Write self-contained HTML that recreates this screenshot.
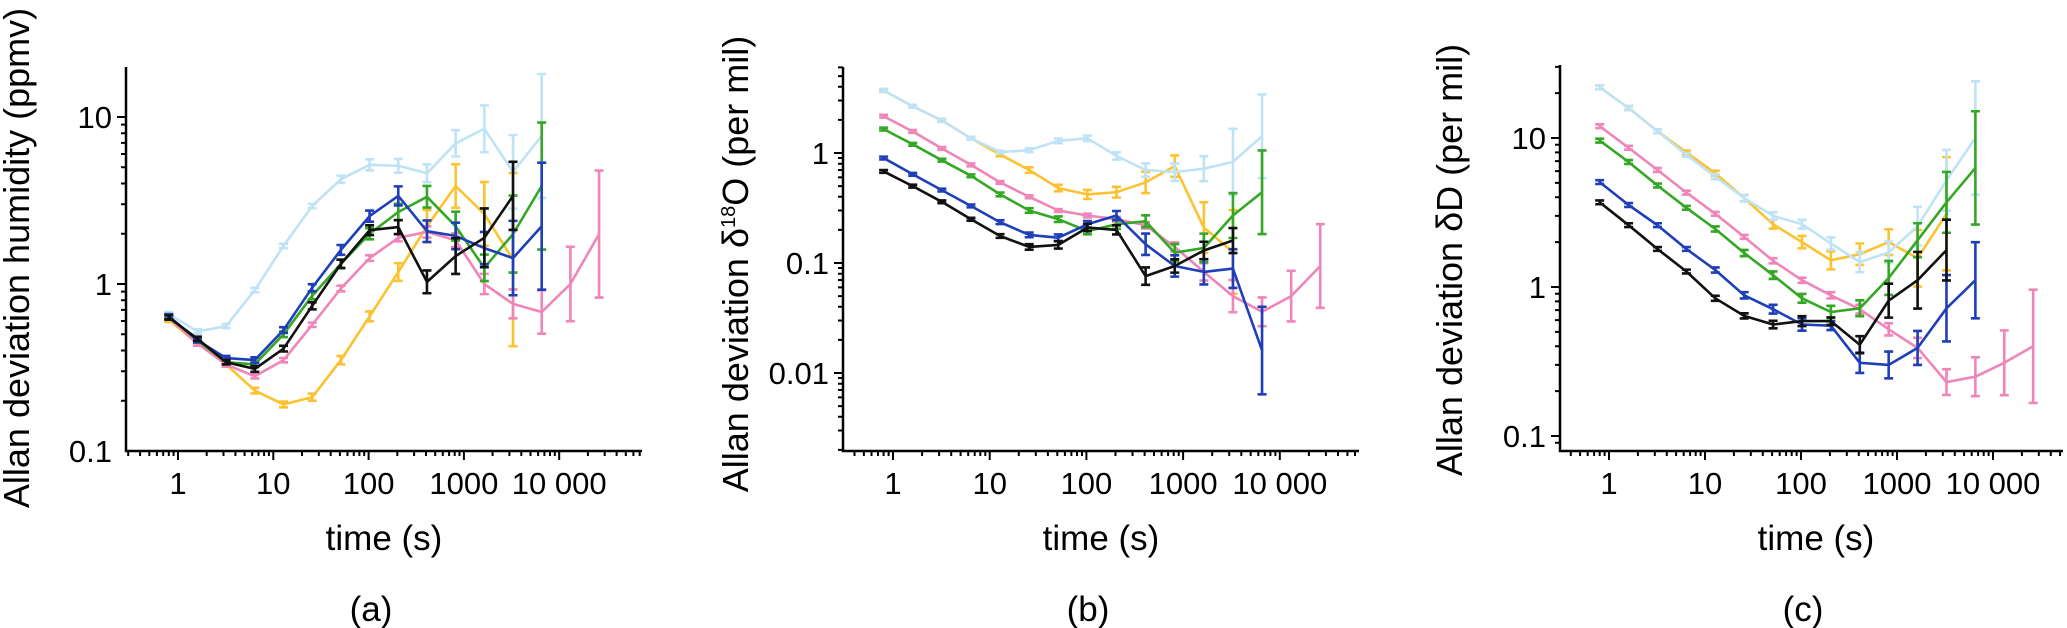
<!DOCTYPE html>
<html><head><meta charset="utf-8"><style>
html,body{margin:0;padding:0;background:#fff;}
svg{display:block;font-family:"Liberation Sans",Arial,sans-serif;}
</style></head><body>
<svg id="chart" width="2067" height="628" viewBox="0 0 2067 628" xmlns="http://www.w3.org/2000/svg"></svg>
<script>
// ---- data ----
const times = [0.8,1.6,3.2,6.4,12.8,25.6,51.2,102.4,204.8,409.6,819.2,1638.4,3276.8,6553.6,13107.2,26214.4];
const xTickValues = [1,10,100,1000,10000];
const xTickLabels = ["1","10","100","1000","10 000"];
const yTicksA = [0.1,1,10];
const yTickLabelsA = ["0.1","1","10"];
const yTicksB = [0.01,0.1,1];
const yTickLabelsB = ["0.01","0.1","1"];
const yTicksC = [0.1,1,10];
const yTickLabelsC = ["0.1","1","10"];
const seriesNames = ["yellow","light-blue","pink","green","blue","black"];
const seriesColors = ["#fcc232","#bfe3f6","#ef85b9","#34a824","#1f3fb8","#111111"];

// panel a: humidity (ppmv)
const aYellow = [0.61,0.44,0.33,0.23,0.19,0.21,0.35,0.64,1.18,2.22,3.86,2.63,1.4];
const aYellowErr = [1.03,1.03,1.03,1.04,1.04,1.05,1.06,1.07,1.13,1.25,1.35,1.55,3.3];
const aLightBlue = [0.66,0.52,0.56,0.92,1.69,2.93,4.24,5.17,5.1,4.6,6.96,8.5,4.7,7.7];
const aLightBlueErr = [1.03,1.03,1.03,1.03,1.03,1.03,1.05,1.08,1.1,1.13,1.2,1.38,1.66,2.35];
const aPink = [0.63,0.44,0.33,0.28,0.35,0.57,0.94,1.43,1.89,2.05,1.83,1.0,0.76,0.68,1.0,1.99];
const aPinkErr = [1.03,1.03,1.03,1.03,1.03,1.03,1.04,1.04,1.05,1.08,1.1,1.15,1.22,1.35,1.67,2.4];
const aGreen = [0.64,0.46,0.34,0.33,0.5,0.85,1.32,2.0,2.7,3.33,2.22,1.25,1.99,3.86];
const aGreenErr = [1.03,1.03,1.03,1.04,1.04,1.05,1.06,1.08,1.12,1.16,1.22,1.2,1.7,2.4];
const aBlue = [0.64,0.46,0.36,0.35,0.53,0.95,1.6,2.55,3.37,2.07,1.94,1.64,1.43,2.22];
const aBlueErr = [1.03,1.03,1.03,1.04,1.04,1.05,1.07,1.08,1.14,1.16,1.2,1.25,1.67,2.4];
const aBlack = [0.63,0.47,0.34,0.31,0.41,0.74,1.32,2.1,2.19,1.03,1.47,1.89,3.37];
const aBlackErr = [1.03,1.03,1.03,1.04,1.04,1.05,1.06,1.07,1.1,1.17,1.28,1.5,1.6];

// panel b: delta18O (per mil)
const bYellow = [3.7,2.66,1.98,1.36,0.97,0.70,0.48,0.42,0.44,0.54,0.76,0.21,0.126];
const bYellowErr = [1.03,1.03,1.03,1.03,1.04,1.06,1.07,1.1,1.12,1.25,1.25,1.7,2.4];
const bLightBlue = [3.7,2.66,1.98,1.36,1.02,1.06,1.29,1.36,0.94,0.70,0.67,0.72,0.83,1.42];
const bLightBlueErr = [1.03,1.03,1.03,1.03,1.03,1.04,1.05,1.06,1.08,1.15,1.2,1.3,2.0,2.4];
const bPink = [2.16,1.57,1.1,0.78,0.54,0.40,0.30,0.27,0.25,0.22,0.14,0.083,0.050,0.036,0.05,0.094];
const bPinkErr = [1.03,1.03,1.03,1.03,1.03,1.03,1.03,1.04,1.05,1.07,1.1,1.2,1.4,1.35,1.7,2.4];
const bGreen = [1.65,1.2,0.86,0.62,0.42,0.30,0.25,0.195,0.225,0.24,0.124,0.137,0.27,0.44];
const bGreenErr = [1.03,1.03,1.03,1.03,1.04,1.05,1.06,1.07,1.1,1.13,1.2,1.35,1.6,2.4];
const bBlue = [0.90,0.64,0.46,0.33,0.235,0.18,0.17,0.225,0.27,0.148,0.094,0.083,0.089,0.016];
const bBlueErr = [1.03,1.03,1.03,1.03,1.04,1.05,1.07,1.07,1.1,1.25,1.25,1.3,1.5,2.5];
const bBlack = [0.68,0.50,0.36,0.25,0.176,0.14,0.146,0.21,0.2,0.076,0.094,0.13,0.16];
const bBlackErr = [1.03,1.03,1.03,1.03,1.04,1.06,1.08,1.08,1.1,1.2,1.15,1.2,1.3];

// panel c: deltaD (per mil)
const cYellow = [21.9,15.9,11.1,8.0,5.8,3.95,2.64,2.0,1.51,1.66,2.0,1.56,3.1];
const cYellowErr = [1.03,1.03,1.03,1.03,1.04,1.05,1.07,1.1,1.15,1.18,1.22,1.55,2.4];
const cLightBlue = [21.9,15.9,11.1,7.7,5.5,3.95,3.0,2.64,1.96,1.47,1.71,2.56,5.2,10];
const cLightBlueErr = [1.03,1.03,1.03,1.03,1.04,1.05,1.06,1.07,1.1,1.17,1.18,1.35,1.6,2.4];
const cPink = [12.0,8.6,6.1,4.3,3.1,2.17,1.5,1.11,0.88,0.71,0.52,0.39,0.23,0.25,0.31,0.40];
const cPinkErr = [1.03,1.03,1.03,1.03,1.03,1.03,1.04,1.04,1.05,1.07,1.1,1.17,1.22,1.35,1.65,2.4];
const cGreen = [9.6,6.9,4.8,3.4,2.45,1.69,1.2,0.84,0.68,0.72,1.15,2.06,3.7,6.3];
const cGreenErr = [1.03,1.03,1.03,1.03,1.04,1.05,1.06,1.07,1.1,1.13,1.3,1.3,1.6,2.4];
const cBlue = [5.06,3.55,2.6,1.8,1.3,0.88,0.71,0.56,0.55,0.31,0.30,0.39,0.72,1.11];
const cBlueErr = [1.03,1.03,1.03,1.03,1.04,1.05,1.07,1.1,1.07,1.17,1.23,1.3,1.67,1.8];
const cBlack = [3.7,2.6,1.8,1.27,0.84,0.64,0.56,0.59,0.59,0.41,0.81,1.11,1.77];
const cBlackErr = [1.03,1.03,1.03,1.03,1.04,1.04,1.06,1.08,1.06,1.14,1.3,1.55,1.6];

// ---- drawing ----
const NS = "http://www.w3.org/2000/svg";
const svg = document.getElementById("chart");
function mk(tag, attrs, parent){
  const e = document.createElementNS(NS, tag);
  for (const k in attrs) e.setAttribute(k, attrs[k]);
  (parent||svg).appendChild(e);
  return e;
}
const lg = Math.log10;

const panels = [
  {id:"a", x1:178, dec:95.3, ax0:126, ax1:642, y1:284, ydec:167, top:67, bottom:451,
   yt:yTicksA, ytl:yTickLabelsA, ymin:0.1, ymax:20,
   series:[[aYellow,aYellowErr],[aLightBlue,aLightBlueErr],[aPink,aPinkErr],[aGreen,aGreenErr],[aBlue,aBlueErr],[aBlack,aBlackErr]],
   lx:17, ly:258, xlc:384, plc:371, title:"Allan deviation humidity (ppmv)"},
  {id:"b", x1:893, dec:96.7, ax0:843, ax1:1359, y1:153, ydec:110, top:67, bottom:451,
   yt:yTicksB, ytl:yTickLabelsB, ymin:0.002, ymax:6,
   series:[[bYellow,bYellowErr],[bLightBlue,bLightBlueErr],[bPink,bPinkErr],[bGreen,bGreenErr],[bBlue,bBlueErr],[bBlack,bBlackErr]],
   lx:736, ly:264, xlc:1101, plc:1088, title:null},
  {id:"c", x1:1609, dec:96, ax0:1560, ax1:2063, y1:287, ydec:149, top:65, bottom:451,
   yt:yTicksC, ytl:yTickLabelsC, ymin:0.08, ymax:30,
   series:[[cYellow,cYellowErr],[cLightBlue,cLightBlueErr],[cPink,cPinkErr],[cGreen,cGreenErr],[cBlue,cBlueErr],[cBlack,cBlackErr]],
   lx:1450, ly:260, xlc:1816, plc:1803, title:"Allan deviation \u03b4D (per mil)"}
];

panels.forEach(p => {
  const g = mk("g", {});
  
  
  const X = t => p.x1 + p.dec * lg(t);
  const Y = v => p.y1 - p.ydec * lg(v);

  // series
  p.series.forEach((s, si) => {
    const vals = s[0], errs = s[1];
    const sg = mk("g", {}, g);
    
    
    const col = seriesColors[si];
    let d = "";
    vals.forEach((v, i) => { d += (i ? "L" : "M") + X(times[i]).toFixed(1) + " " + Y(v).toFixed(1); });
    const line = mk("path", {d:d, fill:"none", stroke:col, "stroke-width":2.6, "stroke-linejoin":"round"}, sg);
    
    
    vals.forEach((v, i) => {
      const x = X(times[i]);
      const yh = Y(v * errs[i]), yl = Y(Math.max(v / errs[i], p.ymin));
      const eb = mk("path", {d:`M${x-4.5} ${yh}H${x+4.5}M${x} ${yh}V${yl}M${x-4.5} ${yl}H${x+4.5}`,
        fill:"none", stroke:col, "stroke-width":2.6}, sg);
      
      
    });
  });

  // axes
  const ax = mk("path", {d:`M${p.ax0} ${p.top}V${p.bottom}H${p.ax1}`, fill:"none", stroke:"#000", "stroke-width":2.5}, g);
  
  
  // x ticks
  let td = "";
  for (let e = -1; e <= 5; e++) for (let m = 1; m <= 9; m++) {
    const t = m * Math.pow(10, e), x = X(t);
    if (x < p.ax0 + 1 || x > p.ax1) continue;
    td += `M${x.toFixed(1)} ${p.bottom}v${m === 1 ? 9 : 5}`;
  }
  // y ticks
  for (let e = -3; e <= 2; e++) for (let m = 1; m <= 9; m++) {
    const v = m * Math.pow(10, e), y = Y(v);
    if (y < p.top || y > p.bottom - 1) continue;
    td += `M${p.ax0} ${y.toFixed(1)}h${m === 1 ? -9 : -5}`;
  }
  const tk = mk("path", {d:td, stroke:"#000", "stroke-width":2, fill:"none"}, g);
  
  

  xTickValues.forEach((t, i) => {
    const tx = mk("text", {x:X(t), y:494, "font-size":31, "text-anchor":"middle", fill:"#000"}, g);
    tx.textContent = xTickLabels[i];
    
    
  });
  p.yt.forEach((v, i) => {
    const ty = mk("text", {x:p.ax0 - 14, y:Y(v) + 11, "font-size":31, "text-anchor":"end", fill:"#000"}, g);
    ty.textContent = p.ytl[i];
    
    
  });

  const xt = mk("text", {x:p.xlc, y:550, "font-size":35, "text-anchor":"middle", fill:"#000"}, g);
  xt.textContent = "time (s)";
  
  

  const pl = mk("text", {x:p.plc, y:621, "font-size":35, "text-anchor":"middle", fill:"#000"}, g);
  pl.textContent = "(" + p.id + ")";
  
  

  const yt = mk("text", {x:0, y:12, "font-size":36, "text-anchor":"middle", fill:"#000",
    transform:`translate(${p.lx},${p.ly}) rotate(-90)`}, g);
  
  
  if (p.title) {
    yt.textContent = p.title;
  } else {
    const t1 = mk("tspan", {}, yt); t1.textContent = "Allan deviation \u03b4";
    const t2 = mk("tspan", {"font-size":20, dy:-13}, yt); t2.textContent = "18";
    const t3 = mk("tspan", {dy:13}, yt); t3.textContent = "O (per mil)";
  }
});
</script>
</body></html>
